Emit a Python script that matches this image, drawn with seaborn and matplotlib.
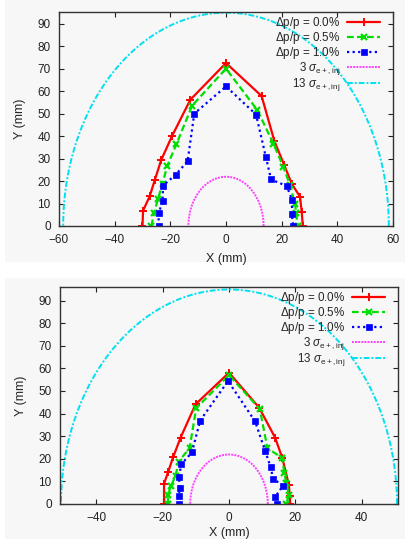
import numpy as np
import pandas as pd
import matplotlib
matplotlib.use("Agg")
import matplotlib.pyplot as plt
import seaborn as sns
from matplotlib.patches import Rectangle

# ---------------- data: top panel ----------------
top_x0 = [-30.0, -29.8, -27.4, -25.6, -23.3, -19.4, -12.8, 0.0, 12.8, 17.4, 20.9, 23.6, 26.6, 27.2, 27.6]
top_y0 = [0.0, 6.8, 13.3, 20.4, 29.3, 40.0, 56.2, 72.5, 57.8, 37.7, 27.2, 18.8, 13.0, 6.2, 0.0]
top_x05 = [-26.8, -25.8, -24.5, -22.8, -21.1, -17.8, -12.2, 0.0, 11.3, 17.0, 20.6, 23.0, 24.8, 25.2, 25.8]
top_y05 = [0.0, 6.0, 11.8, 18.9, 26.8, 36.4, 53.5, 70.0, 51.5, 36.7, 26.3, 18.2, 10.0, 5.6, 0.0]
top_x10 = [-24.2, -24.2, -22.8, -22.6, -18.1, -13.8, -11.4, 0.0, 10.8, 14.3, 16.2, 21.8, 23.8, 23.6, 24.2]
top_y10 = [0.0, 5.6, 11.0, 18.0, 22.8, 28.8, 50.0, 62.1, 49.6, 30.8, 20.7, 17.8, 11.5, 5.3, 0.0]
top_sigma_x = 4.5
top_sigma_y = 7.3

# ---------------- data: bottom panel ----------------
bot_x0 = [-19.6, -19.6, -18.4, -16.9, -14.6, -10.1, 0.0, 9.1, 13.9, 16.1, 18.1, 18.3, 18.5]
bot_y0 = [0.0, 9.0, 14.0, 20.6, 29.4, 44.1, 58.1, 42.6, 29.4, 20.3, 8.2, 3.5, 0.0]
bot_x05 = [-18.4, -18.4, -17.5, -16.1, -15.2, -11.9, -9.9, 0.0, 9.3, 11.6, 16.1, 16.7, 17.3, 18.1, 17.3]
bot_y05 = [0.0, 4.1, 8.1, 12.5, 18.8, 24.7, 42.4, 57.0, 42.0, 24.7, 20.3, 13.7, 9.3, 4.1, 0.0]
bot_x10 = [-15.1, -15.1, -14.9, -15.1, -14.4, -11.2, -8.7, -0.3, 7.9, 10.9, 12.6, 13.3, 16.3, 13.9, 14.4]
bot_y10 = [0.0, 3.4, 7.1, 11.8, 17.6, 22.8, 36.9, 54.4, 36.5, 23.5, 16.2, 11.2, 8.1, 3.1, 0.0]
bot_sigma_x = 3.9
bot_sigma_y = 7.3

labels = [r"$\Delta$p/p = 0.0%", r"$\Delta$p/p = 0.5%", r"$\Delta$p/p = 1.0%",
          r"3 $\sigma_{\mathrm{e+,inj}}$", r"13 $\sigma_{\mathrm{e+,inj}}$"]
sigma_mult = [3, 13]

sns.set_theme(style="ticks")
plt.rcParams['font.family'] = ['Liberation Sans', 'DejaVu Sans']
plt.rcParams['mathtext.fontset'] = 'custom'
plt.rcParams['mathtext.rm'] = 'Liberation Sans'
plt.rcParams['mathtext.it'] = 'Liberation Sans:italic'

BG = "#f7f7f7"
W, H = 406, 539
fig = plt.figure(figsize=(W / 100, H / 100), dpi=100, facecolor="white")

# panel backgrounds
fig.patches.append(Rectangle((5 / W, (H - 262) / H), 401 / W, 262 / H,
                             transform=fig.transFigure, facecolor=BG, edgecolor="none", zorder=-10))
fig.patches.append(Rectangle((5 / W, 0), 401 / W, 261 / H,
                             transform=fig.transFigure, facecolor=BG, edgecolor="none", zorder=-10))

ax_top = fig.add_axes([59 / W, (H - 226) / H, 334 / W, 214 / H])
ax_bot = fig.add_axes([60 / W, (H - 504) / H, 338 / W, 217 / H])


def ellipse(sx, sy, n):
    t = np.linspace(0, np.pi, 200)
    return n * sx * np.cos(t), n * sy * np.sin(t)


def draw(ax, xs, ys, sx, sy, xlim, ylim, xticks, xlabelpad):
    ax.set_facecolor(BG)
    styles = [
        dict(color="#ff0000", linestyle="-", linewidth=1.6, marker="+", markersize=6,
             markeredgewidth=1.4),
        dict(color="#00dd00", linestyle=(0, (3, 1.5)), linewidth=1.6, marker="x", markersize=5,
             markeredgewidth=1.6),
        dict(color="#0000ff", linestyle=(0, (1, 1.5)), linewidth=1.6, marker="s", markersize=5,
             markeredgewidth=0.5),
    ]
    for (x, y), st, lab in zip(zip(xs, ys), styles, labels[:3]):
        df = pd.DataFrame({"x": x, "y": y})
        sns.lineplot(data=df, x="x", y="y", sort=False, estimator=None, ax=ax, label=lab,
                     markeredgecolor=st["color"], **st)
    ex, ey = ellipse(sx, sy, sigma_mult[0])
    sns.lineplot(x=ex, y=ey, sort=False, estimator=None, ax=ax, color="#ff40ff",
                 linestyle=(0, (1, 0.6)), linewidth=1.4, label=labels[3])
    ex, ey = ellipse(sx, sy, sigma_mult[1])
    sns.lineplot(x=ex, y=ey, sort=False, estimator=None, ax=ax, color="#00e0f0",
                 linestyle=(0, (3, 1, 1, 1)), linewidth=1.4, label=labels[4])
    ax.set_xlim(*xlim)
    ax.set_ylim(*ylim)
    ax.set_xticks(xticks)
    ax.set_yticks(np.arange(0, 91, 10))
    ax.tick_params(direction="in", top=True, right=True, length=3.5, width=0.8,
                   labelsize=8.5, colors="#222222", pad=6)
    for s in ax.spines.values():
        s.set_color("#333333")
        s.set_linewidth(1.0)
    ax.set_xlabel("X (mm)", fontsize=9, labelpad=xlabelpad)
    ax.set_ylabel("Y (mm)", fontsize=9, labelpad=8)
    ax.legend(loc="upper right", frameon=False, markerfirst=False, fontsize=8.4,
              handlelength=2.8, handletextpad=0.6, labelspacing=-0.08,
              borderaxespad=0.1, borderpad=0.15, bbox_to_anchor=(0.97, 1.0))


draw(ax_top, [top_x0, top_x05, top_x10], [top_y0, top_y05, top_y10],
     top_sigma_x, top_sigma_y, (-60, 60), (0, 95.2), np.arange(-60, 61, 20), 5)
draw(ax_bot, [bot_x0, bot_x05, bot_x10], [bot_y0, bot_y05, bot_y10],
     bot_sigma_x, bot_sigma_y, (-51, 51), (0, 96), np.arange(-40, 41, 20), 2)

fig.savefig("out.png", dpi=100, facecolor="white")
